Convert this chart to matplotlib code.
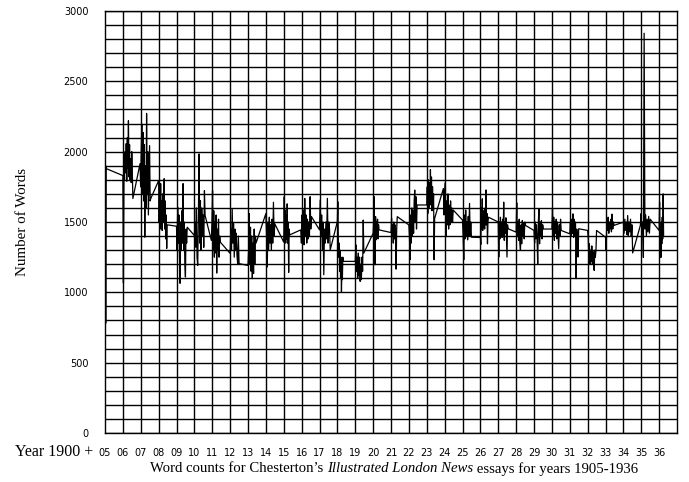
import numpy as np
import matplotlib
matplotlib.use("Agg")
import matplotlib.pyplot as plt

# word counts per essay, grouped by year
years = list(range(1905, 1937))
spans = [(0.0, 0.06), (0.0, 0.56), (-0.04, 0.56), (0.0, 0.48), (0.0, 0.6),
         (0.0, 0.6), (-0.05, 0.45), (0.0, 0.5), (0.0, 0.45), (0.0, 0.5),
         (0.0, 0.33), (-0.05, 0.55), (0.0, 0.6), (0.0, 0.33), (0.0, 0.48),
         (0.0, 0.33), (0.0, 0.35), (0.0, 0.46), (0.0, 0.47), (-0.07, 0.48),
         (0.0, 0.5), (0.0, 0.45), (0.0, 0.55), (0.0, 0.52), (0.0, 0.52),
         (0.0, 0.52), (0.0, 0.5), (0.0, 0.5), (0.0, 0.48), (0.0, 0.52),
         (-0.05, 0.5), (0.0, 0.25)]
counts = [
    [1330, 1920, 1350, 1900, 780, 1890, 1880],
    [1830, 1066, 1900, 1800, 2000, 1850, 2057, 1790, 2100, 1880, 2220, 1820, 2050, 1800, 1950, 1780, 2000, 1850, 1667],
    [1915, 1750, 2000, 2196, 1700, 2137, 1650, 2050, 1392, 1900, 1600, 2272, 1700, 2000, 1550, 1800, 2043, 1650, 1667],
    [1794, 1500, 1700, 1450, 1773, 1480, 1650, 1440, 1700, 1500, 1600, 1808, 1450, 1650, 1380, 1550, 1312, 1480],
    [1470, 1300, 1605, 1350, 1550, 1250, 1064, 1500, 1300, 1580, 1350, 1773, 1300, 1500, 1200, 1109, 1450, 1350, 1463],
    [1404, 1500, 1321, 1600, 1250, 1191, 1550, 1984, 1350, 1652, 1300, 1600, 1400, 1550, 1320, 1723, 1546],
    [1369, 1500, 1723, 1300, 1580, 1250, 1500, 1280, 1550, 1137, 1450, 1300, 1520, 1250, 1400, 1357],
    [1277, 1450, 1300, 1594, 1350, 1489, 1250, 1450, 1300, 1420, 1260, 1204, 1400, 1204],
    [1191, 1300, 1560, 1200, 1463, 1150, 1400, 1097, 1350, 1134, 1450, 1200, 1400, 1350],
    [1560, 1400, 1180, 1500, 1300, 1534, 1350, 1480, 1298, 1520, 1350, 1640, 1400, 1487],
    [1357, 1680, 1400, 1585, 1350, 1550, 1380, 1629, 1350, 1500, 1142, 1450, 1408],
    [1444, 1350, 1550, 1380, 1585, 1338, 1668, 1400, 1550, 1350, 1520, 1380, 1500, 1400, 1680, 1450, 1538],
    [1444, 1656, 1400, 1550, 1300, 1500, 1125, 1450, 1350, 1500, 1380, 1668, 1350, 1500, 1450, 1302],
    [1503, 1644, 1400, 1250, 1350, 1150, 1300, 1100, 1250, 1000, 1200, 1090, 1250, 1220],
    [1220, 1338, 1150, 1250, 1100, 1279, 1120, 1250, 1078, 1200, 1090, 1250, 1150, 1514, 1279],
    [1420, 1500, 1680, 1400, 1196, 1538, 1373, 1500, 1400, 1520, 1380, 1480, 1444],
    [1425, 1526, 1400, 1480, 1350, 1500, 1380, 1480, 1360, 1165, 1450, 1538],
    [1479, 1400, 1232, 1550, 1350, 1600, 1400, 1580, 1420, 1650, 1727, 1500, 1680, 1450, 1621],
    [1621, 1750, 1560, 1800, 1600, 1780, 1620, 1873, 1650, 1820, 1580, 1750, 1600, 1700, 1232, 1526, 1538],
    [1738, 1550, 1700, 1779, 1397, 1650, 1480, 1700, 1450, 1620, 1480, 1650, 1500, 1600, 1500, 1585],
    [1514, 1400, 1232, 1550, 1380, 1585, 1400, 1500, 1373, 1540, 1400, 1632, 1400, 1500, 1392],
    [1390, 1340, 1600, 1450, 1665, 1440, 1580, 1460, 1550, 1450, 1600, 1480, 1728, 1480, 1560, 1345, 1500, 1534],
    [1500, 1251, 1500, 1380, 1534, 1400, 1500, 1390, 1520, 1400, 1641, 1370, 1500, 1420, 1530, 1380, 1251, 1480, 1452],
    [1428, 1636, 1400, 1500, 1370, 1520, 1350, 1298, 1480, 1345, 1510, 1400, 1490, 1380, 1500, 1476],
    [1440, 1350, 1500, 1380, 1480, 1370, 1203, 1500, 1594, 1345, 1500, 1400, 1510, 1380, 1480, 1450],
    [1450, 1594, 1400, 1534, 1370, 1500, 1420, 1520, 1380, 1500, 1410, 1310, 1480, 1400, 1520, 1440],
    [1416, 1500, 1400, 1520, 1420, 1558, 1390, 1520, 1400, 1500, 1097, 1450, 1380, 1251, 1452],
    [1440, 1392, 1250, 1345, 1203, 1300, 1220, 1330, 1200, 1290, 1210, 1156, 1300, 1250, 1298, 1440],
    [1392, 1298, 1500, 1440, 1534, 1420, 1500, 1450, 1520, 1430, 1556, 1450, 1500, 1476],
    [1499, 1420, 1520, 1440, 1500, 1410, 1546, 1400, 1500, 1430, 1520, 1400, 1480, 1280],
    [1476, 1560, 1420, 1500, 1248, 2842, 1450, 1550, 1400, 1520, 1430, 1540, 1420, 1520],
    [1440, 1640, 1350, 1450, 1248, 1500, 1345, 1534, 1380, 1700, 1400],
]
year_labels = ["%02d" % (y - 1900) for y in years]

x = []
y = []
for yr, (a, b), vals in zip(years, spans, counts):
    x.extend(yr + np.linspace(a, b, len(vals)))
    y.extend(vals)

fig = plt.figure(figsize=(6.89, 4.82), dpi=100)
ax = fig.add_axes([105/689, 1 - 433/482, 572/689, 422/482])
ax.plot(x, y, color="black", lw=0.9)

ax.set_xlim(1905, 1937)
ax.set_ylim(0, 3000)
ax.set_xticks(years)
ax.set_xticklabels(year_labels)
ax.set_yticks(np.arange(0, 3001, 500))
ax.set_yticks(np.arange(0, 3001, 100), minor=True)
for yr in range(1906, 1937):
    ax.axvline(yr, color="black", lw=1.0, zorder=1)
ax.grid(axis="y", which="both", color="black", lw=1.0)
ax.tick_params(which="both", length=0)
ax.tick_params(axis="y", pad=12, labelsize=7)
ax.tick_params(axis="x", pad=11, labelsize=7)
for s in ax.spines.values():
    s.set_linewidth(1.0)

serif = "Liberation Serif"
fig.text(15/689, 1 - 452/482, "Year 1900 +", family=serif, fontsize=11.5, va="center")
fig.text(23/689, 1 - 222/482, "Number of Words", family=serif, fontsize=10.8,
         rotation=90, ha="center", va="center")
t1 = fig.text(150/689, 1 - 469/482, "Word counts for Chesterton\u2019s ", family=serif,
              fontsize=10.6, va="center")
t2 = ax.annotate("Illustrated London News", xy=(1, 0), xycoords=t1, va="bottom",
                 family=serif, fontsize=10.6, style="italic", annotation_clip=False)
ax.annotate(" essays for years 1905-1936", xy=(1, 0), xycoords=t2, va="bottom",
            family=serif, fontsize=10.6, annotation_clip=False)

fig.savefig("out.png", dpi=100)
